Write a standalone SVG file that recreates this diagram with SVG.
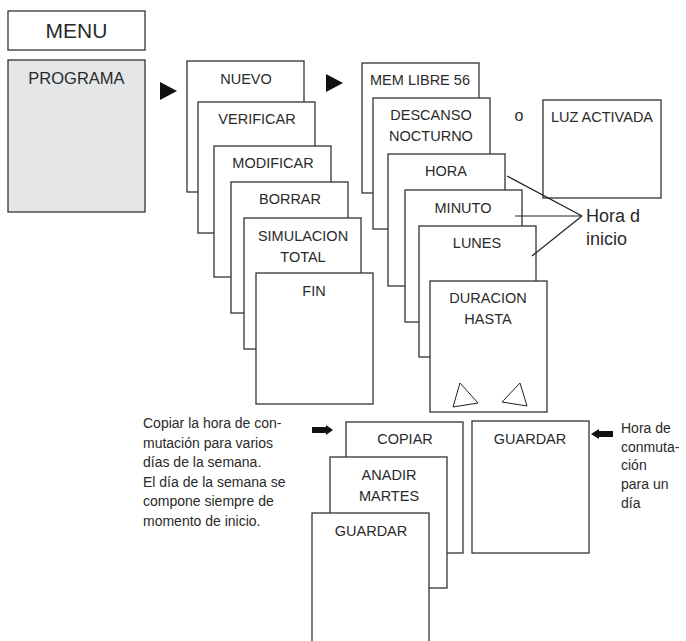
<svg xmlns="http://www.w3.org/2000/svg" width="686" height="641" viewBox="0 0 686 641">
<style>
.b{fill:#fff;stroke:#333;stroke-width:1.3}
.g{fill:#e5e6e8;stroke:#333;stroke-width:1.3}
text{font-family:"Liberation Sans",Arial,sans-serif;fill:#2a2a2a}
.l{font-size:14.5px;text-anchor:middle}
.t{font-size:14px}
.c{fill:none;stroke:#222;stroke-width:1.2}
.tri{fill:#fff;stroke:#222;stroke-width:1}
</style>
<rect width="686" height="641" fill="#fff"/>
<g id="menu"><rect class="b" x="8" y="11" width="137" height="39"/><text x="76.5" y="38" font-size="21" text-anchor="middle">MENU</text></g>
<g id="programa"><rect class="g" x="8" y="60" width="137" height="152"/><text x="76.5" y="84" font-size="16.5" text-anchor="middle">PROGRAMA</text></g>
<g id="nuevo"><rect class="b" x="187" y="61" width="117" height="131"/><text class="l" x="246" y="84">NUEVO</text></g>
<g id="verificar"><rect class="b" x="198" y="102" width="117" height="131"/><text class="l" x="257" y="124">VERIFICAR</text></g>
<g id="modificar"><rect class="b" x="214" y="146" width="117" height="131"/><text class="l" x="273" y="168">MODIFICAR</text></g>
<g id="borrar"><rect class="b" x="231" y="182" width="117" height="131"/><text class="l" x="290" y="204">BORRAR</text></g>
<g id="simulacion"><rect class="b" x="244" y="218" width="117" height="131"/><text class="l" x="303" y="241">SIMULACION</text><text class="l" x="303" y="262">TOTAL</text></g>
<g id="fin"><rect class="b" x="256" y="273" width="117" height="131"/><text class="l" x="314" y="296">FIN</text></g>
<g id="memlibre"><rect class="b" x="362" y="63" width="117" height="130"/><text class="l" x="420" y="85">MEM LIBRE 56</text></g>
<g id="descanso"><rect class="b" x="373" y="98" width="117" height="131"/><text class="l" x="431" y="120">DESCANSO</text><text class="l" x="431" y="141">NOCTURNO</text></g>
<g id="o"><text x="519" y="121" font-size="16" text-anchor="middle">o</text></g>
<g id="luz"><rect class="b" x="543" y="100" width="118" height="98"/><text class="l" x="602" y="122">LUZ ACTIVADA</text></g>
<g id="hora"><rect class="b" x="388" y="154" width="117" height="132"/><text class="l" x="446" y="176">HORA</text></g>
<g id="minuto"><rect class="b" x="405" y="190" width="117" height="132"/><text class="l" x="463" y="213">MINUTO</text></g>
<g id="lunes"><rect class="b" x="419" y="226" width="117" height="131"/><text class="l" x="477" y="248">LUNES</text></g>
<g id="duracion"><rect class="b" x="430" y="281" width="117" height="131"/><text class="l" x="488" y="303">DURACION</text><text class="l" x="488" y="324">HASTA</text>
<polygon class="tri" points="460,383 453,407 478,403"/><polygon class="tri" points="520,383 502,402 527,406"/></g>
<g id="horainicio"><text x="586" y="222" font-size="18">Hora d</text><text x="586" y="245" font-size="18">inicio</text></g>
<g id="nota1"><text class="t" x="143" y="428">Copiar la hora de con-</text><text class="t" x="143" y="447.5">mutación para varios</text><text class="t" x="143" y="467">días de la semana.</text><text class="t" x="143" y="486.5">El día de la semana se</text><text class="t" x="143" y="506">compone siempre de</text><text class="t" x="143" y="525.5">momento de inicio.</text></g>
<g id="copiar"><rect class="b" x="346" y="422" width="117" height="131"/><text class="l" x="405" y="444">COPIAR</text></g>
<g id="anadir"><rect class="b" x="330" y="457" width="117" height="131"/><text class="l" x="389" y="480">ANADIR</text><text class="l" x="389" y="501">MARTES</text></g>
<g id="guardar1"><rect class="b" x="312" y="513" width="117" height="140"/><text class="l" x="371" y="536">GUARDAR</text></g>
<g id="guardar2"><rect class="b" x="472" y="421" width="117" height="132"/><text class="l" x="530" y="444">GUARDAR</text></g>
<g id="nota2"><text class="t" x="621" y="433">Hora de</text><text class="t" x="621" y="452">conmuta-</text><text class="t" x="621" y="470">ción</text><text class="t" x="621" y="489">para un</text><text class="t" x="621" y="508">día</text></g>
<g id="connectors">
<polygon points="160,82 177,91 160,100" fill="#111"/>
<polygon points="326,74 343,83 326,92" fill="#111"/>
<polyline class="c" points="507,176 582,216 515,216"/>
<line class="c" x1="582" y1="216" x2="532" y2="256"/>
<polygon points="312,427 326,427 326,425 333,430 326,435 326,433 312,433" fill="#111"/>
<polygon points="613,431 599,431 599,429 591,434 599,439 599,437 613,437" fill="#111"/>
</g>
</svg>
